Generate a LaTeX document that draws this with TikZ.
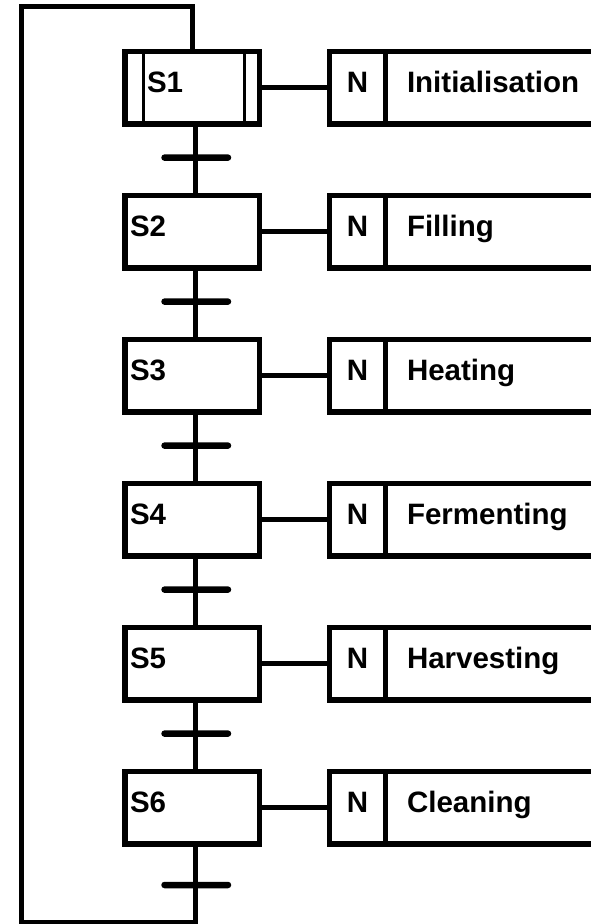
\documentclass[tikz,border=0pt]{standalone}
\usepackage{fontspec}
\setmainfont{Liberation Sans}
\usetikzlibrary{calc, positioning}

\tikzset{
  box/.style={draw, line width=5.5pt, outer sep=0pt, minimum height=72.5pt,
    text height=21pt, text depth=12pt, font=\fontsize{29.5pt}{32pt}\selectfont\bfseries},
  stepbox/.style={box, minimum width=134.5pt, text width=124.5pt, inner xsep=5pt, align=left},
  initstep/.style={stepbox, text width=90.5pt, inner xsep=22pt},
  qual/.style={box, minimum width=56pt, inner xsep=0pt},
  actbox/.style={box, text width=182pt, inner xsep=21.5pt, align=left},
  trans/.style={fill, minimum width=70pt, minimum height=6.5pt, inner sep=0pt, rounded corners=3.25pt},
  link/.style={line width=5pt},
}

\begin{document}
\begin{tikzpicture}[x=1pt, y=-1pt, node distance=71.5pt and 70pt]
    \useasboundingbox (0,0) rectangle (591,924);

    % steps
    \node[initstep] (s1) at (192.25,87.75) {S1};
    \node[stepbox, below=of s1] (s2) {S2};
    \node[stepbox, below=of s2] (s3) {S3};
    \node[stepbox, below=of s3] (s4) {S4};
    \node[stepbox, below=of s4] (s5) {S5};
    \node[stepbox, below=of s5] (s6) {S6};

    % actions
    \node[qual, right=of s1] (q1) {N};
    \node[actbox, right=0pt of q1] (a1) {Initialisation};
    \node[qual, right=of s2] (q2) {N};
    \node[actbox, right=0pt of q2] (a2) {Filling};
    \node[qual, right=of s3] (q3) {N};
    \node[actbox, right=0pt of q3] (a3) {Heating};
    \node[qual, right=of s4] (q4) {N};
    \node[actbox, right=0pt of q4] (a4) {Fermenting};
    \node[qual, right=of s5] (q5) {N};
    \node[actbox, right=0pt of q5] (a5) {Harvesting};
    \node[qual, right=of s6] (q6) {N};
    \node[actbox, right=0pt of q6] (a6) {Cleaning};

    % initial step
    \draw[line width=3pt] ([xshift=18pt]s1.north west) -- ([xshift=18pt]s1.south west)
                          ([xshift=-15pt]s1.north east) -- ([xshift=-15pt]s1.south east);

    \path[link] (s1.east) edge (q1.west)
                (s2.east) edge (q2.west)
                (s3.east) edge (q3.west)
                (s4.east) edge (q4.west)
                (s5.east) edge (q5.west)
                (s6.east) edge (q6.west);

    \path[link] ([xshift=3.5pt]s1.south) edge ([xshift=3.5pt]s2.north)
                ([xshift=3.5pt]s2.south) edge ([xshift=3.5pt]s3.north)
                ([xshift=3.5pt]s3.south) edge ([xshift=3.5pt]s4.north)
                ([xshift=3.5pt]s4.south) edge ([xshift=3.5pt]s5.north)
                ([xshift=3.5pt]s5.south) edge ([xshift=3.5pt]s6.north);

    % transitions
    \node[trans] (t1) at ($([xshift=4pt]s1.south)!0.47!([xshift=4pt]s2.north)$) {};
    \node[trans] (t2) at ($([xshift=4pt]s2.south)!0.47!([xshift=4pt]s3.north)$) {};
    \node[trans] (t3) at ($([xshift=4pt]s3.south)!0.47!([xshift=4pt]s4.north)$) {};
    \node[trans] (t4) at ($([xshift=4pt]s4.south)!0.47!([xshift=4pt]s5.north)$) {};
    \node[trans] (t5) at ($([xshift=4pt]s5.south)!0.47!([xshift=4pt]s6.north)$) {};
    \node[trans] (t6) at ([xshift=4pt, yshift=-41pt]s6.south) {};

    % return loop
    \coordinate (lb) at (21.8,922.5);
    \coordinate (lt) at (21.8,6.5);
    \draw[link] ([xshift=3.5pt]s6.south) |- (lb) -- (lt) -| (s1.north);
\end{tikzpicture}
\end{document}
